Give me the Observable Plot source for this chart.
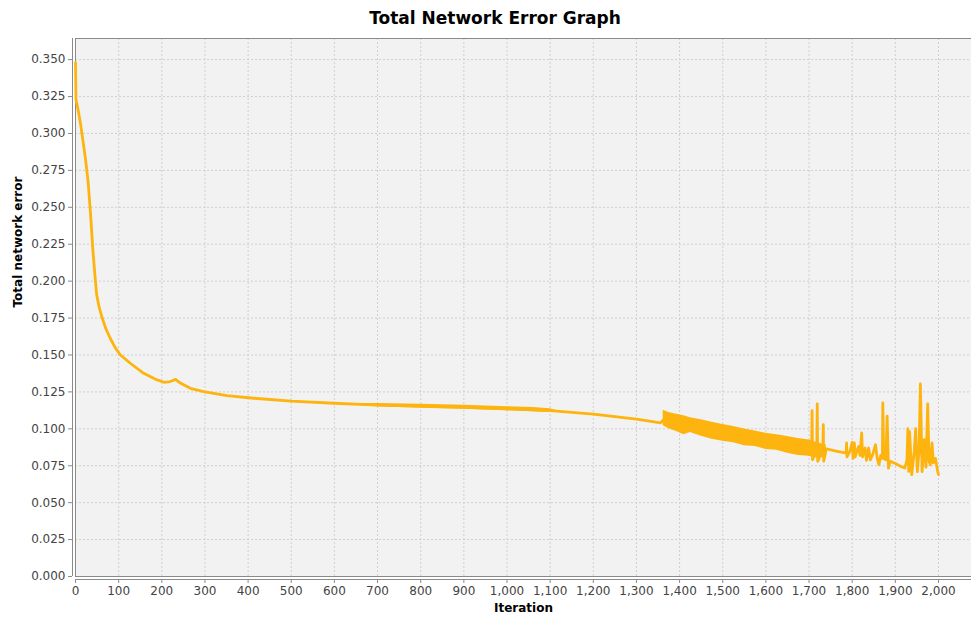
<!DOCTYPE html>
<html><head><meta charset="utf-8">
<script src="https://cdn.jsdelivr.net/npm/d3@7"></script>
<script src="https://cdn.jsdelivr.net/npm/@observablehq/plot@0.6"></script>
<style>
body{margin:0;background:#fff;font-family:"DejaVu Sans",sans-serif;}
#title{height:36px;width:971px;box-sizing:border-box;padding-left:19px;text-align:center;font-weight:bold;font-size:17px;line-height:36px;color:#000;}
</style></head><body>
<div id="title">Total Network Error Graph</div>
<div id="chart"></div>
<script>
// main error curve (iteration, total network error)
const iterations = [
  0,1,6,12,23,29,35,40,45,49,55,62,70,81,92,104,127,158,189,205,220,232,243,266,297,351,413,
  500,600,700,800,900,1000,1100,1200,1300,1356,1362,1400,1450,1500,1550,1600,1650,1700,
  1706,1707,1708,1718,1719,1720,1732,1733,1734,1740,1760,1786,1787,1788,
  1795,1800,1802,1805,1807,1812,1815,1818,1822,1824,1830,1833,1838,1842,1848,1854,1858,1862,1866,
  1870,1871,1873,1878,1881,1884,1888,1900,1912,1922,1927,1929,1931,1933,1938,1944,1947,1951,1955,
  1958,1962,1967,1971,1975,1978,1981,1985,1988,1993,1998,2000
];
const errors = [
  0.348,0.323,0.316,0.306,0.283,0.268,0.245,0.222,0.204,0.191,0.182,0.175,0.168,0.161,0.155,0.150,0.1444,0.1376,0.1331,0.1315,0.1320,0.1335,0.1310,0.1274,0.1252,0.1225,0.1207,
  0.1187,0.1173,0.1160,0.1153,0.1146,0.1135,0.1123,0.1100,0.1065,0.1040,0.1060,0.1035,0.1005,0.0975,0.0945,0.0915,0.0895,0.0870,
  0.0865,0.1123,0.0790,0.0860,0.1168,0.0780,0.0855,0.1029,0.0780,0.0865,0.0850,0.0836,0.0904,0.0810,
  0.0850,0.0908,0.0800,0.0905,0.0810,0.0860,0.0880,0.0820,0.0972,0.0810,0.0870,0.0787,0.0870,0.0790,0.0830,0.0893,0.0800,0.0757,0.0820,
  0.0800,0.1175,0.0800,0.0790,0.1085,0.0734,0.0780,0.0765,0.0746,0.0735,0.0790,0.1001,0.0712,0.0980,0.0690,0.0850,0.1001,0.0710,0.0850,
  0.1304,0.0710,0.0927,0.0740,0.1168,0.0780,0.0757,0.0904,0.0770,0.0800,0.0712,0.0690
];
// dense oscillation band (iteration, low, high)
const bandIter = [1362,1375,1390,1410,1425,1450,1475,1500,1525,1550,1575,1600,1625,1650,1675,1700,1720,1740];
const bandLow  = [0.1020,0.1000,0.0985,0.0960,0.0975,0.0950,0.0930,0.0915,0.0905,0.0885,0.0880,0.0860,0.0855,0.0835,0.0820,0.0814,0.0800,0.0810];
const bandHigh = [0.1125,0.1110,0.1100,0.1088,0.1075,0.1062,0.1045,0.1030,0.1015,0.0998,0.0985,0.0970,0.0960,0.0948,0.0935,0.0925,0.0905,0.0890];
// slight jitter band in the middle
const midIter = [650,700,800,900,1000,1060,1100,1115];
const midLow  = [0.1160,0.1150,0.1140,0.1132,0.1122,0.1115,0.1110,0.1116];
const midHigh = [0.1172,0.1172,0.1166,0.1160,0.1150,0.1145,0.1136,0.1124];
// axis ticks
const xTicks = [0,100,200,300,400,500,600,700,800,900,1000,1100,1200,1300,1400,1500,1600,1700,1800,1900,2000];
const yTicks = [0,0.025,0.05,0.075,0.1,0.125,0.15,0.175,0.2,0.225,0.25,0.275,0.3,0.325,0.35];

const lineData = iterations.map((x,i)=>({x, y:errors[i]}));
const band = bandIter.map((x,i)=>({x, lo:bandLow[i], hi:bandHigh[i]}));
const mid = midIter.map((x,i)=>({x, lo:midLow[i], hi:midHigh[i]}));
const color = "#FDB40F";
const grey = "#8a8a8a";

const chart = Plot.plot({
  width:971, height:581, marginTop:2, marginLeft:75, marginRight:0, marginBottom:41,
  style:{fontFamily:"DejaVu Sans", fontSize:"12px", color:"#444", background:"#fff"},
  x:{domain:[0,2076.5], axis:null},
  y:{domain:[0,0.3643], axis:null},
  marks:[
    Plot.frame({fill:"#f2f2f2", stroke:null}),
    Plot.gridX(xTicks,{stroke:"#cfcfcf", strokeOpacity:1, strokeDasharray:"2,2"}),
    Plot.gridY(yTicks,{stroke:"#cfcfcf", strokeOpacity:1, strokeDasharray:"2,2"}),
    Plot.frame({stroke:grey}),
    Plot.ruleX([0],{dx:-3, stroke:grey}),
    Plot.ruleY([0],{dy:3, stroke:grey}),
    Plot.axisX(xTicks,{tickFormat:d3.format(","), tickSize:4, dy:3, tickPadding:3, label:null, stroke:grey, fill:"#444"}),
    Plot.axisY(yTicks,{tickFormat:d3.format(".3f"), tickSize:4, dx:-3, tickPadding:3, label:null, stroke:grey, fill:"#444"}),
    Plot.areaY(mid,{x:"x", y1:"lo", y2:"hi", fill:color}),
    Plot.areaY(band,{x:"x", y1:"lo", y2:"hi", fill:color}),
    Plot.line(lineData,{x:"x", y:"y", stroke:color, strokeWidth:2.8, strokeLinejoin:"round"}),
    Plot.text(["Total network error"],{frameAnchor:"left", rotate:-90, dx:-57, fontWeight:"bold", fontSize:12, fill:"#000"}),
    Plot.text(["Iteration"],{frameAnchor:"bottom", dy:35, fontWeight:"bold", fontSize:12, fill:"#000"})
  ]
});
document.getElementById("chart").appendChild(chart);
</script>
</body></html>
